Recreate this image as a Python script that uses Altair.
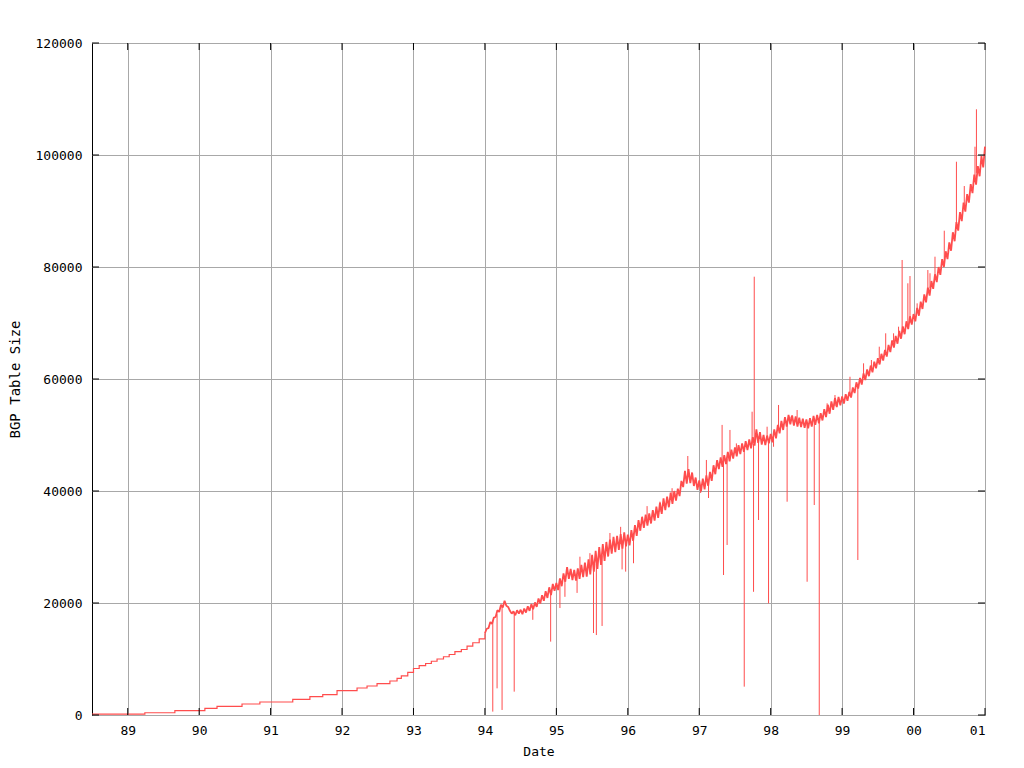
import altair as alt
import pandas as pd

# ---- early period: step-like growth (year, prefixes) ----
step_years = [1988.5, 1989.24, 1989.66, 1990.08, 1990.25, 1990.60, 1990.85, 1991.31, 1991.55,
              1991.73, 1991.93, 1992.21, 1992.35, 1992.49, 1992.67, 1992.77, 1992.83, 1992.92,
              1993.00, 1993.08, 1993.17, 1993.25, 1993.33, 1993.42, 1993.50, 1993.58, 1993.67,
              1993.75, 1993.83, 1993.92, 1994.00]
step_sizes = [150, 400, 770, 1190, 1550, 1960, 2320, 2800, 3270,
              3630, 4340, 4820, 5180, 5600, 6070, 6550, 7000, 7600,
              8300, 8800, 9200, 9600, 10000, 10400, 10800, 11300, 11700,
              12300, 12900, 13600, 14600]

# ---- noisy period: 40 samples per year, values in thousands ----
v1994 = [14.6, 15.4, 15.5, 16.6, 16.3, 17.4, 17.5, 18.7, 18.4, 19.7, 19.2, 20.4, 19.5, 19.3, 18.6, 18.1,
         18.5, 17.8, 18.7, 18.1, 18.8, 18.0, 19.0, 18.3, 19.4, 18.6, 19.8, 18.9, 20.1, 19.3, 20.8, 19.9,
         21.4, 20.4, 22.1, 20.9, 22.8, 21.4, 23.4, 22.2]
v1995 = [23.6, 22.3, 24.4, 23.0, 25.3, 23.8, 26.4, 24.3, 26.1, 24.1, 25.9, 24.0, 26.2, 24.3, 26.8, 24.6,
         27.2, 24.7, 27.8, 25.1, 28.6, 25.6, 29.3, 26.1, 30.0, 26.8, 30.5, 27.5, 30.9, 28.3, 31.3, 28.8,
         31.8, 29.1, 32.0, 29.5, 32.3, 29.7, 32.6, 30.1]
v1996 = [32.2, 30.3, 33.0, 31.1, 33.9, 32.0, 34.8, 32.9, 35.4, 33.4, 35.8, 33.8, 36.0, 34.2, 36.6, 34.7,
         37.2, 35.2, 37.9, 35.9, 38.7, 36.6, 39.0, 37.1, 39.7, 37.7, 40.0, 38.3, 40.4, 39.1, 41.8, 40.7,
         43.6, 41.3, 43.9, 41.4, 43.3, 40.9, 42.4, 40.2]
v1997 = [41.9, 40.0, 42.2, 40.3, 42.8, 40.9, 43.4, 41.8, 44.6, 43.0, 45.5, 43.9, 46.0, 44.3, 46.4, 44.8,
         47.0, 45.3, 47.4, 45.8, 47.8, 46.2, 48.2, 46.6, 48.5, 47.0, 48.9, 47.3, 49.2, 47.6, 49.6, 48.1,
         51.0, 48.6, 50.5, 48.3, 50.0, 48.2, 49.9, 48.5]
v1998 = [50.2, 48.7, 51.0, 49.4, 51.8, 50.3, 52.5, 50.9, 53.2, 51.5, 53.6, 51.9, 53.5, 51.7, 53.3, 51.5,
         53.1, 51.4, 52.9, 51.3, 52.8, 51.2, 53.0, 51.5, 53.4, 51.8, 53.6, 52.1, 53.9, 52.6, 54.6, 53.2,
         55.4, 53.8, 56.0, 54.5, 56.6, 55.0, 56.8, 55.3]
v1999 = [56.9, 55.6, 57.3, 56.1, 57.7, 56.7, 58.5, 57.5, 59.4, 58.3, 60.2, 59.0, 61.0, 59.8, 61.7, 60.5,
         62.4, 61.2, 63.1, 61.9, 63.7, 62.6, 64.5, 63.3, 65.2, 64.0, 66.1, 64.8, 66.9, 65.6, 67.7, 66.3,
         68.6, 67.2, 69.4, 68.0, 70.3, 68.9, 71.2, 69.7]
v2000 = [71.6, 70.3, 72.7, 71.3, 73.8, 72.5, 75.1, 73.7, 76.3, 74.9, 77.5, 76.1, 78.7, 77.3, 80.0, 78.6,
         81.4, 80.0, 82.8, 81.4, 84.4, 82.9, 86.2, 84.6, 88.0, 86.5, 89.8, 88.2, 91.5, 89.9, 93.0, 91.5,
         94.8, 93.2, 96.5, 94.7, 98.0, 96.2, 99.8, 97.8]
end_year = 2001.0
end_size = 101.5

# ---- transient spikes: date, level the spike leaves from, level it reaches ----
spike_years = [1994.11, 1994.17, 1994.24, 1994.41, 1994.67, 1994.92, 1995.05, 1995.12, 1995.29,
               1995.33, 1995.47, 1995.52, 1995.56, 1995.64, 1995.75, 1995.90,
               1995.92, 1995.97, 1996.08, 1996.27, 1996.45, 1996.62, 1996.84, 1997.02, 1997.10,
               1997.13, 1997.32, 1997.34,
               1997.39, 1997.43, 1997.52, 1997.63, 1997.74, 1997.76, 1997.77, 1997.83, 1997.95,
               1997.97, 1998.04, 1998.11,
               1998.23, 1998.27, 1998.37, 1998.51, 1998.61, 1998.68, 1998.79, 1998.90, 1999.11,
               1999.22, 1999.30, 1999.41, 1999.52,
               1999.61, 1999.72, 1999.79, 1999.84, 1999.92, 1999.95, 2000.05, 2000.20, 2000.23,
               2000.30, 2000.43, 2000.49, 2000.60, 2000.71,
               2000.86, 2000.88]
spike_bases = [16800, 18000, 19500, 18300, 19300, 22000, 23500, 24500, 25000,
               25200, 26300, 26500, 27000, 28500, 29600, 30500,
               30500, 30700, 32500, 34800, 36300, 38600, 42500, 41000, 41800,
               41800, 45200, 45300,
               45800, 46100, 47000, 47600, 48300, 48400, 48500, 49000, 49100,
               49100, 49800, 51300,
               52500, 52700, 52500, 52200, 52500, 53000, 54100, 55200, 57000,
               59000, 60200, 62000, 63500,
               65000, 66500, 67400, 68300, 69400, 70000, 72000, 75600, 76200,
               78000, 81000, 82400, 87000, 90500,
               96000, 96800]
spike_sizes = [600, 4760, 900, 4170, 17000, 13100, 19100, 21100, 21800,
               28270, 28900, 14640, 14280, 15900, 32500, 33600,
               26000, 25600, 27100, 37300, 38100, 40500, 46250, 39640, 45540,
               38750, 51800, 25000,
               30360, 50900, 48500, 5060, 54160, 22000, 78270, 34820, 51480,
               19940, 47900, 55360,
               38090, 53270, 54460, 23800, 37500, 0, 55660, 57140, 60400,
               27680, 62800, 63390, 65770,
               68160, 68160, 69340, 81250, 77090, 78390, 73510, 79460, 78880,
               81840, 86480, 83630, 98800, 94460,
               101480, 108160]

xtick_years = [1989, 1990, 1991, 1992, 1993, 1994, 1995, 1996, 1997, 1998, 1999, 2000, 2001]
ytick_values = [0, 20000, 40000, 60000, 80000, 100000, 120000]

# ---- build tables ----
rows = []
for start, vals in [(1994, v1994), (1995, v1995), (1996, v1996), (1997, v1997),
                    (1998, v1998), (1999, v1999), (2000, v2000)]:
    for i, v in enumerate(vals):
        rows.append({"year": start + i / len(vals), "size": v * 1000})
rows.append({"year": end_year, "size": end_size * 1000})
noisy = pd.DataFrame(rows)
spikes = pd.DataFrame({"year": spike_years, "base": spike_bases, "size": spike_sizes})
steps = pd.DataFrame({"year": step_years, "size": step_sizes})
xt = pd.DataFrame({"year": xtick_years})
yt = pd.DataFrame({"size": ytick_values})

W, H = 893, 672
FONT = "DejaVu Sans Mono"
RED = "#ff4d4d"

xscale = alt.Scale(domain=[1988.5, 2001], nice=False, zero=False)
yscale = alt.Scale(domain=[0, 120000], nice=False)

xaxis = alt.Axis(values=xtick_years, labelExpr="substring(toString(datum.value), 2, 4)",
                 title="Date", grid=True, ticks=False, domain=False, labelPadding=9,
                 titleY=36, titleBaseline="middle", zindex=0)
yaxis = alt.Axis(values=ytick_values, format="d", title="BGP Table Size", grid=True,
                 ticks=False, domain=False, labelPadding=10,
                 titleX=-77, titleY=H / 2, titleAngle=270, titleAlign="center",
                 titleBaseline="middle", titleFontSize=14, zindex=0)

step_line = alt.Chart(steps).mark_line(color=RED, strokeWidth=1.2, interpolate="step-after").encode(
    x=alt.X("year:Q", scale=xscale, axis=xaxis),
    y=alt.Y("size:Q", scale=yscale, axis=yaxis),
)
noisy_line = alt.Chart(noisy).mark_line(color=RED, strokeWidth=1.8, strokeJoin="bevel").encode(
    x=alt.X("year:Q", scale=xscale),
    y=alt.Y("size:Q", scale=yscale),
)
spike_rules = alt.Chart(spikes).mark_rule(color=RED, strokeWidth=1).encode(
    x=alt.X("year:Q", scale=xscale),
    y=alt.Y("base:Q", scale=yscale),
    y2="size:Q",
)
xt_bottom = alt.Chart(xt).mark_rule(color="black").encode(
    x=alt.X("year:Q", scale=xscale), y=alt.value(H), y2=alt.value(H - 7))
xt_top = alt.Chart(xt).mark_rule(color="black").encode(
    x=alt.X("year:Q", scale=xscale), y=alt.value(0), y2=alt.value(7))
yt_left = alt.Chart(yt).mark_rule(color="black").encode(
    y=alt.Y("size:Q", scale=yscale), x=alt.value(0), x2=alt.value(7))
yt_right = alt.Chart(yt).mark_rule(color="black").encode(
    y=alt.Y("size:Q", scale=yscale), x=alt.value(W), x2=alt.value(W - 7))

chart = alt.layer(step_line, noisy_line, spike_rules, xt_bottom, xt_top, yt_left, yt_right).properties(
    width=W, height=H,
    autosize=alt.AutoSizeParams(type="none"),
    padding={"left": 84, "top": 35, "right": 25, "bottom": 45},
    background="white",
).configure_view(
    stroke="black", strokeWidth=1
).configure_axis(
    gridColor="#a8a8a8", gridWidth=1, gridOpacity=1,
    labelFont=FONT, labelFontSize=13, labelColor="black",
    titleFont=FONT, titleFontSize=13, titleFontWeight="normal", titleColor="black",
)

chart.save("out.html", embed_options={"renderer": "svg", "actions": False})
